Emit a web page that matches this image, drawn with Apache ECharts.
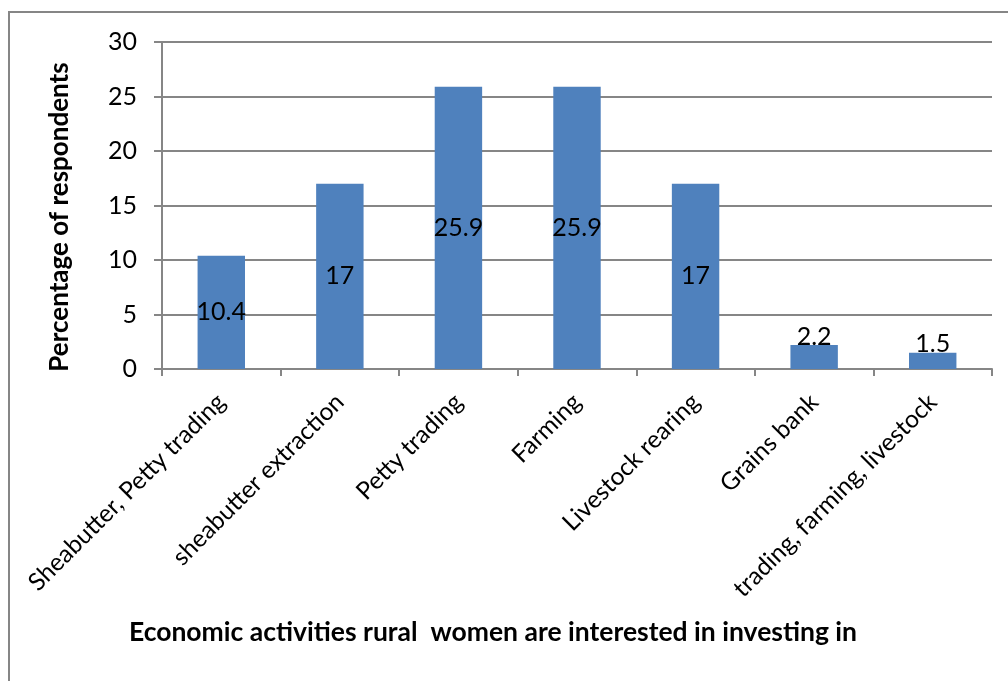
<!DOCTYPE html>
<html><head><meta charset="utf-8">
<script src="https://cdn.jsdelivr.net/npm/echarts@6/dist/echarts.min.js"></script>
<style>html,body{margin:0;padding:0;background:#fff}#c{width:1008px;height:681px}</style>
</head><body><div id="c"></div>
<script>
const categories = ["Sheabutter, Petty trading","sheabutter extraction","Petty trading","Farming","Livestock rearing","Grains bank","trading, farming, livestock"];
const values = [10.4, 17, 25.9, 25.9, 17, 2.2, 1.5];
const labelTop = [false, false, false, false, false, true, true];
const yTicks = [0, 5, 10, 15, 20, 25, 30];
const xTitle = "Economic activities rural  women are interested in investing in";
const yTitle = "Percentage of respondents";

const FONT = "Lato";
const chart = echarts.init(document.getElementById('c'), null, {renderer:'canvas'});
chart.setOption({
  animation:false,
  backgroundColor:'#fff',
  grid:{left:162, right:16, top:42, bottom:312, containLabel:false},
  xAxis:{type:'category', data:categories,
    axisLine:{lineStyle:{color:'#868686', width:2}},
    axisTick:{show:true, alignWithLabel:false, length:7, lineStyle:{color:'#868686', width:2}},
    axisLabel:{rotate:45, margin:29, fontFamily:FONT, fontSize:24.5, color:'#000', interval:0}
  },
  yAxis:{type:'value', min:yTicks[0], max:yTicks[yTicks.length-1], interval:5,
    axisLine:{show:true, lineStyle:{color:'#868686', width:2}},
    axisTick:{show:true, length:8, lineStyle:{color:'#868686', width:2}},
    splitLine:{lineStyle:{color:'#868686', width:2}},
    axisLabel:{margin:25, fontFamily:FONT, fontSize:25, color:'#000'}
  },
  series:[{type:'bar', barWidth:'40%',
    itemStyle:{color:'#4F81BD'},
    data: values.map((v,i)=>({value:v, label:{position: labelTop[i] ? 'top' : 'inside', distance: labelTop[i] ? -4 : 0}})),
    label:{show:true, fontFamily:FONT, fontSize:25, color:'#000'}
  }],
  graphic:[
    {type:'rect', shape:{x:9, y:12, width:1100, height:800}, style:{fill:'none', stroke:'#868686', lineWidth:2}, silent:true},
    {type:'text', x:493, y:632, style:{text:xTitle, font:'bold 26.5px '+FONT, fill:'#000', textAlign:'center', textVerticalAlign:'middle'}},
    {type:'text', x:60, y:217, rotation:Math.PI/2, style:{text:yTitle, font:'bold 26px '+FONT, fill:'#000', textAlign:'center', textVerticalAlign:'middle'}}
  ]
});
</script></body></html>
